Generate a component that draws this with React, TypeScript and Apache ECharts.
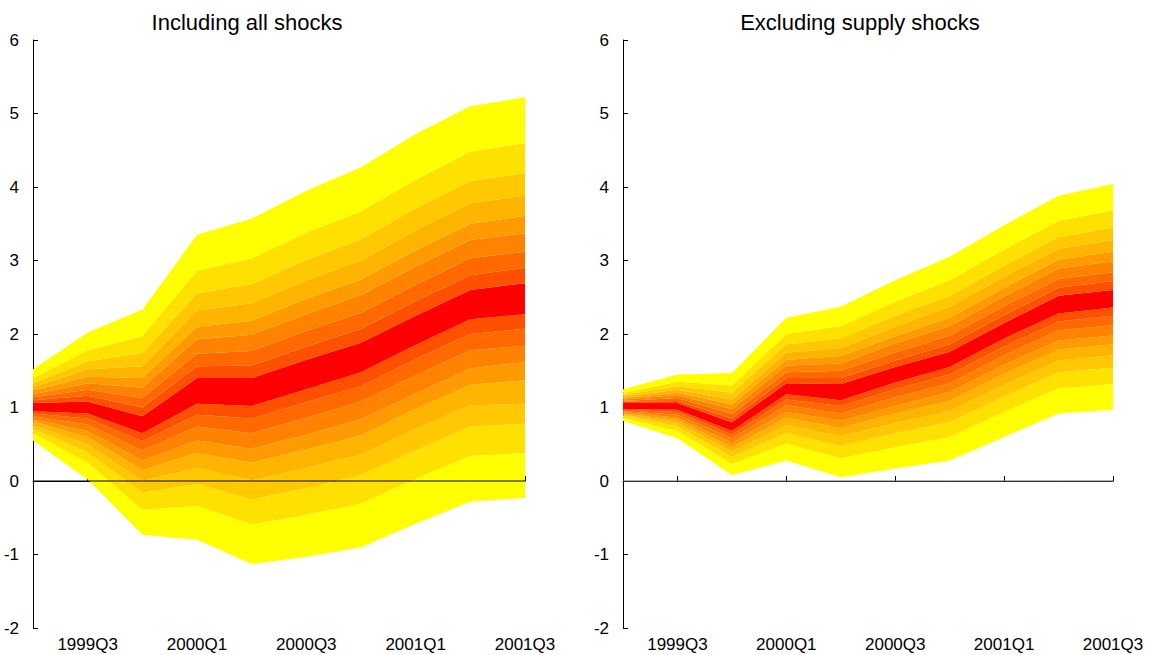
import { useEffect, useRef } from 'react';
import * as echarts from 'echarts';

const quarters = ['1999Q2', '1999Q3', '1999Q4', '2000Q1', '2000Q2', '2000Q3', '2000Q4', '2001Q1', '2001Q2', '2001Q3'];

// fan boundaries per quarter, low to high (18 values -> 17 bands)
const allShocks: number[][] = [
  [0.55, 0.65, 0.71, 0.76, 0.81, 0.84, 0.88, 0.92, 0.95, 1.06, 1.10, 1.14, 1.18, 1.23, 1.28, 1.33, 1.40, 1.52],
  [0.02, 0.25, 0.39, 0.50, 0.60, 0.68, 0.77, 0.85, 0.92, 1.08, 1.16, 1.24, 1.33, 1.42, 1.52, 1.63, 1.78, 2.02],
  [-0.73, -0.39, -0.16, 0.0, 0.15, 0.28, 0.42, 0.54, 0.65, 0.88, 1.00, 1.13, 1.27, 1.40, 1.56, 1.74, 1.97, 2.33],
  [-0.80, -0.34, -0.04, 0.18, 0.38, 0.55, 0.74, 0.90, 1.05, 1.40, 1.56, 1.73, 1.93, 2.10, 2.32, 2.55, 2.86, 3.35],
  [-1.13, -0.59, -0.25, 0.01, 0.25, 0.44, 0.65, 0.85, 1.02, 1.40, 1.57, 1.77, 1.99, 2.18, 2.42, 2.68, 3.03, 3.57],
  [-1.03, -0.46, -0.10, 0.18, 0.43, 0.63, 0.86, 1.07, 1.25, 1.65, 1.83, 2.04, 2.27, 2.48, 2.73, 3.01, 3.38, 3.95],
  [-0.90, -0.31, 0.08, 0.36, 0.62, 0.84, 1.08, 1.29, 1.48, 1.88, 2.07, 2.29, 2.53, 2.74, 3.00, 3.29, 3.67, 4.27],
  [-0.58, 0.03, 0.42, 0.71, 0.98, 1.19, 1.44, 1.66, 1.85, 2.25, 2.45, 2.67, 2.92, 3.14, 3.41, 3.71, 4.10, 4.72],
  [-0.28, 0.34, 0.74, 1.03, 1.31, 1.53, 1.78, 2.00, 2.20, 2.60, 2.80, 3.03, 3.28, 3.50, 3.78, 4.08, 4.48, 5.10],
  [-0.23, 0.38, 0.78, 1.05, 1.37, 1.62, 1.84, 2.07, 2.27, 2.69, 2.90, 3.12, 3.37, 3.61, 3.88, 4.19, 4.60, 5.22],
];

const exSupply: number[][] = [
  [0.82, 0.86, 0.89, 0.90, 0.92, 0.94, 0.95, 0.97, 0.98, 1.06, 1.08, 1.09, 1.11, 1.13, 1.15, 1.17, 1.20, 1.25],
  [0.58, 0.68, 0.74, 0.79, 0.83, 0.86, 0.90, 0.94, 0.97, 1.06, 1.09, 1.13, 1.17, 1.20, 1.24, 1.29, 1.35, 1.45],
  [0.08, 0.23, 0.33, 0.40, 0.46, 0.52, 0.58, 0.63, 0.68, 0.80, 0.85, 0.91, 0.98, 1.04, 1.11, 1.20, 1.30, 1.47],
  [0.28, 0.51, 0.65, 0.76, 0.86, 0.94, 1.03, 1.11, 1.18, 1.33, 1.40, 1.48, 1.57, 1.65, 1.75, 1.86, 2.00, 2.22],
  [0.05, 0.31, 0.48, 0.61, 0.72, 0.82, 0.92, 1.02, 1.10, 1.32, 1.40, 1.50, 1.60, 1.70, 1.81, 1.94, 2.11, 2.37],
  [0.17, 0.46, 0.65, 0.79, 0.92, 1.02, 1.14, 1.25, 1.34, 1.55, 1.64, 1.75, 1.87, 1.97, 2.10, 2.25, 2.44, 2.73],
  [0.28, 0.60, 0.80, 0.95, 1.09, 1.21, 1.33, 1.45, 1.55, 1.76, 1.86, 1.98, 2.11, 2.22, 2.37, 2.52, 2.73, 3.05],
  [0.60, 0.94, 1.15, 1.31, 1.46, 1.58, 1.71, 1.83, 1.94, 2.15, 2.26, 2.38, 2.51, 2.63, 2.78, 2.93, 3.15, 3.48],
  [0.92, 1.26, 1.48, 1.64, 1.79, 1.91, 2.05, 2.17, 2.28, 2.52, 2.63, 2.75, 2.89, 3.01, 3.16, 3.32, 3.54, 3.88],
  [0.97, 1.32, 1.54, 1.71, 1.86, 1.98, 2.12, 2.25, 2.36, 2.60, 2.72, 2.84, 2.99, 3.12, 3.28, 3.45, 3.68, 4.04],
];

const bandColors = [
  '#FFFF00', '#FFE100', '#FFC800', '#FFB400', '#FF9B00', '#FF8200', '#FF6900', '#FF5000',
  '#FF0000',
  '#FF5000', '#FF6900', '#FF8200', '#FF9B00', '#FFB400', '#FFC800', '#FFE100', '#FFFF00',
];

const panels = [
  { title: 'Including all shocks', data: allShocks, left: 33, width: 492, titleX: 242, zeroColor: '#000' },
  { title: 'Excluding supply shocks', data: exSupply, left: 623, width: 490, titleX: 855, zeroColor: '#666' },
];

const font = 'Liberation Sans, Arial, sans-serif';

export default function App() {
  const ref = useRef<HTMLDivElement | null>(null);

  useEffect(() => {
    if (!ref.current) return undefined;
    const chart = echarts.init(ref.current, undefined, { renderer: 'svg' });

    const series: any[] = [];
    panels.forEach((p, gi) => {
      const stack = 'fan' + gi;
      series.push({
        type: 'line', xAxisIndex: gi, yAxisIndex: gi, stack, stackStrategy: 'all',
        data: p.data.map((b) => b[0]), symbol: 'none', lineStyle: { width: 0 }, silent: true,
      });
      for (let k = 0; k < 17; k++) {
        series.push({
          type: 'line', xAxisIndex: gi, yAxisIndex: gi, stack, stackStrategy: 'all',
          data: p.data.map((b) => +(b[k + 1] - b[k]).toFixed(3)),
          symbol: 'none', lineStyle: { width: 0 },
          areaStyle: { color: bandColors[k], opacity: 1 }, silent: true,
        });
      }
      series.push({
        type: 'line', xAxisIndex: gi, yAxisIndex: gi,
        data: quarters.map(() => 0), symbol: 'none',
        lineStyle: { color: p.zeroColor, width: 1 }, z: 5, silent: true,
      });
    });

    chart.setOption({
      animation: false,
      title: panels.map((p) => ({
        text: p.title, left: p.titleX, top: 6, textAlign: 'center',
        textStyle: { fontFamily: font, fontSize: 22, fontWeight: 'normal', color: '#000' },
      })),
      grid: panels.map((p) => ({ left: p.left, width: p.width, top: 40, height: 588 })),
      xAxis: panels.map((_, gi) => ({
        type: 'category', gridIndex: gi, data: quarters, boundaryGap: false,
        axisLine: { lineStyle: { color: '#000' } },
        axisTick: { inside: true, length: 5, interval: (i: number) => i % 2 === 1, lineStyle: { color: '#000' } },
        axisLabel: { interval: (i: number) => i % 2 === 1, color: '#000', fontSize: 17, fontFamily: font, margin: 8 },
        splitLine: { show: false },
      })),
      yAxis: panels.map((_, gi) => ({
        type: 'value', gridIndex: gi, min: -2, max: 6, interval: 1,
        axisLine: { show: true, lineStyle: { color: '#000' } },
        axisTick: { show: true, inside: true, length: 5, lineStyle: { color: '#000' } },
        axisLabel: { color: '#000', fontSize: 17, fontFamily: font, margin: 14 },
        splitLine: { show: false },
      })),
      series,
    });

    return () => chart.dispose();
  }, []);

  return <div ref={ref} style={{ position: 'absolute', left: 0, top: 0, width: 1156, height: 655 }} />;
}
